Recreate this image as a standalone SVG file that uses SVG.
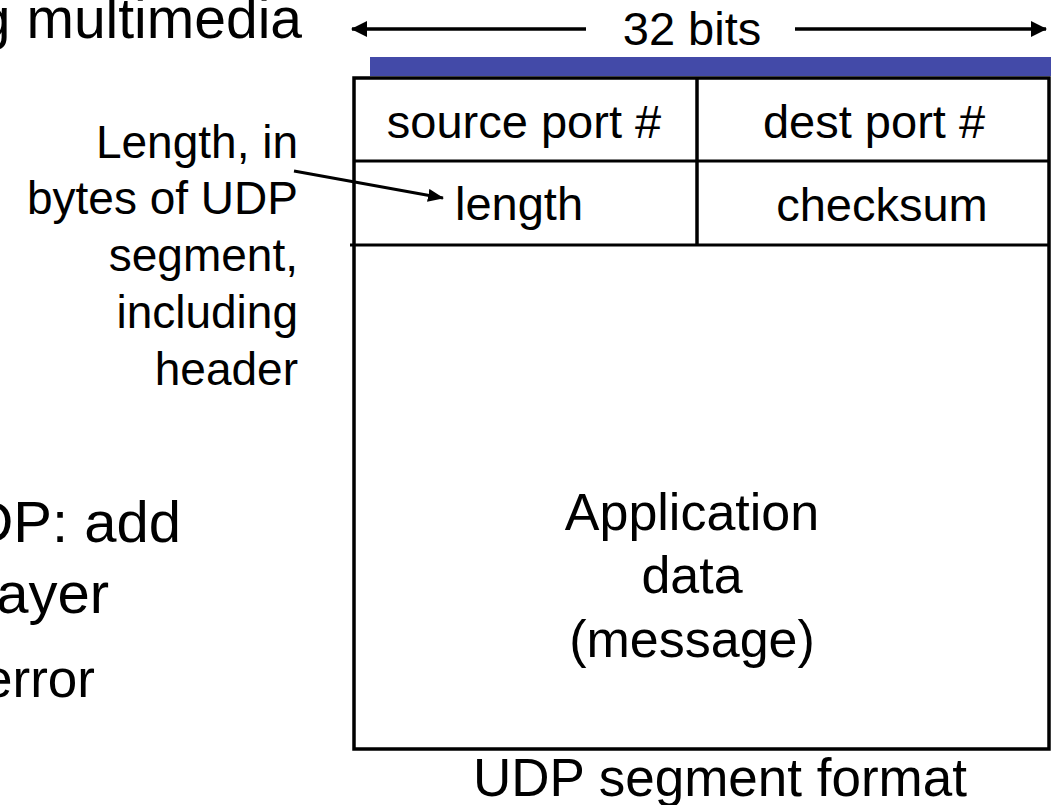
<svg xmlns="http://www.w3.org/2000/svg" width="1051" height="805" viewBox="0 0 1051 805">
<defs>
<style>
text{font-family:"Liberation Sans",Arial,sans-serif;font-size:47px;fill:#000}
.c{text-anchor:middle}
.r{text-anchor:end}
.body{font-size:58px}
.sub{font-size:55px}
.note{font-size:46px}
.big{font-size:52px}
.cap{font-size:53px}
.ln{stroke:#000;stroke-width:3.5;fill:none}
.in{stroke:#000;stroke-width:3;fill:none}
</style>
<marker id="ah" viewBox="0 0 16 16" refX="15" refY="8" markerWidth="16" markerHeight="16" markerUnits="userSpaceOnUse" orient="auto">
<path d="M0,0 L16,8 L0,16 z" fill="#000"/>
</marker>
<marker id="ah2" viewBox="0 0 16 13" refX="15" refY="6.5" markerWidth="16" markerHeight="13" markerUnits="userSpaceOnUse" orient="auto">
<path d="M0,0 L16,6.5 L0,13 z" fill="#000"/>
</marker>
</defs>
<rect width="1051" height="805" fill="#fff"/>
<g id="slide-text">
<text class="r body" x="302" y="38" style="font-size:57px">g multimedia</text>
<text class="r body" x="181" y="542">DP: add</text>
<text class="r body" x="109" y="613">ayer</text>
<text class="r" x="95" y="697" style="font-size:53px">error</text>
</g>
<g id="width-label">
<text class="c" x="692" y="45">32 bits</text>
</g>
<g id="header-bar">
<rect x="370" y="57" width="681" height="19" fill="#434AA8"/>
</g>
<g id="segment-box">
<rect class="ln" x="354" y="78" width="695" height="671"/>
<line class="in" x1="354" y1="161" x2="1049" y2="161"/>
<line class="in" x1="350" y1="245" x2="1049" y2="245"/>
<line class="ln" x1="697" y1="78" x2="697" y2="245"/>
</g>
<g id="source-port"><text class="c" x="524" y="138">source port #</text></g>
<g id="dest-port"><text class="c" x="874" y="138">dest port #</text></g>
<g id="length"><text class="c" x="519" y="220">length</text></g>
<g id="checksum"><text class="c" x="882" y="221">checksum</text></g>
<g id="app-data">
<text class="c big" x="692" y="530">Application</text>
<text class="c big" x="692" y="593">data</text>
<text class="c big" x="692" y="657">(message)</text>
</g>
<g id="length-note">
<text class="r note" x="298" y="158">Length, in</text>
<text class="r note" x="298" y="214">bytes of UDP</text>
<text class="r note" x="298" y="271">segment,</text>
<text class="r note" x="298" y="328">including</text>
<text class="r note" x="298" y="385">header</text>
</g>
<g id="caption"><text class="c cap" x="720" y="796">UDP segment format</text></g>
<g id="connectors">
<line class="ln" x1="586" y1="29" x2="352" y2="29" marker-end="url(#ah)"/>
<line class="ln" x1="795" y1="29" x2="1046" y2="29" marker-end="url(#ah)"/>
<line class="in" x1="294" y1="171" x2="443" y2="198" marker-end="url(#ah2)"/>
</g>
</svg>
